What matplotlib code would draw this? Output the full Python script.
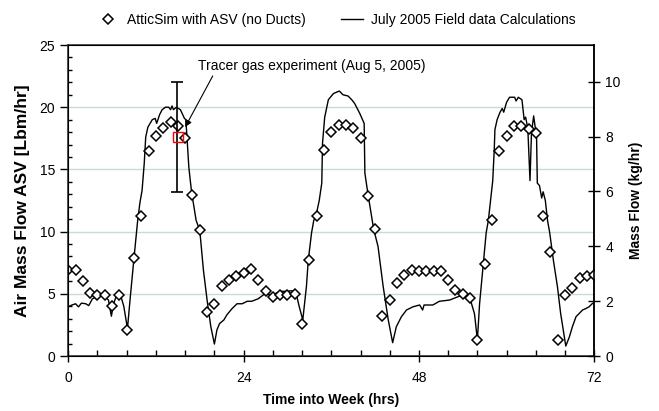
import numpy as np
import matplotlib
matplotlib.use("Agg")
import matplotlib.pyplot as plt

plt.rcParams['font.family'] = ['Liberation Sans', 'DejaVu Sans']

# AtticSim hourly predictions (lbm/hr)
sim_t = np.arange(0, 73)
sim_v = [6.9, 6.9, 6.0, 5.1, 4.9, 4.9, 4.0, 4.9, 2.1, 7.9,
         11.25, 16.5, 17.7, 18.35, 18.8, 18.45, 17.5, 12.95, 10.1, 3.5,
         4.2, 5.6, 6.1, 6.45, 6.7, 7.0, 6.1, 5.2, 4.75, 4.9,
         4.9, 5.0, 2.6, 7.7, 11.25, 16.55, 18.0, 18.6, 18.6, 18.3,
         17.5, 12.85, 10.2, 3.2, 4.5, 5.9, 6.5, 6.9, 6.8, 6.8,
         6.8, 6.8, 6.1, 5.3, 5.0, 4.7, 1.3, 7.4, 10.9, 16.5,
         17.66, 18.46, 18.46, 18.25, 17.9, 11.25, 8.4, 1.3, 4.9, 5.5,
         6.3, 6.4, 6.5]

# July 2005 field data calculations
field_t = [0.0, 0.5, 1.0, 1.4, 1.8, 2.4, 2.8, 3.3, 4.0, 5.0, 5.5, 5.9, 6.2, 6.5,
           7.1, 7.6, 8.1, 8.5, 9.0, 9.5, 9.8, 10.1, 10.4, 10.6, 10.9, 11.5, 11.9,
           12.1, 12.5, 12.85, 13.3, 13.75, 14.0, 14.2, 14.4, 14.8, 15.35, 15.9,
           16.1, 16.25, 16.35, 16.5, 16.7, 16.9, 17.2, 17.5, 18.0, 18.5, 19.0,
           19.5, 20.0, 20.35, 20.7, 21.3, 21.7, 22.4, 23.1, 23.8, 24.5, 25.1,
           26.0, 26.9, 27.9, 29.0, 29.9, 30.6, 31.2, 31.6, 32.1, 32.6, 32.85,
           33.3, 33.6, 33.9, 34.35, 34.7, 34.8, 35.1, 35.6, 36.3, 37.1, 37.6,
           38.3, 38.8, 39.2, 39.9, 40.5, 40.6, 41.0, 41.8, 42.4, 43.1, 43.8,
           44.4, 44.9, 45.6, 46.3, 47.2, 48.1, 48.5, 48.7, 49.9, 50.8, 52.2,
           53.5, 54.5, 55.1, 55.6, 56.0, 56.3, 56.8, 57.2, 57.5, 58.1, 58.3,
           58.4, 58.7, 59.1, 59.4, 59.6, 60.0, 60.4, 61.1, 61.3, 61.6, 62.1,
           62.4, 62.6, 62.9, 63.2, 63.4, 63.7, 64.1, 64.2, 64.5, 64.8, 65.0,
           65.3, 65.6, 65.9, 66.4, 66.95, 67.4, 68.1, 68.6, 69.0, 69.5, 69.9,
           70.4, 70.8, 71.3, 71.7, 72.0]
field_v = [3.96, 4.1, 4.2, 3.95, 4.25, 4.2, 4.05, 4.6, 4.8, 4.8, 4.5, 3.2, 4.2, 4.7,
           5.0, 4.0, 2.2, 4.8, 7.9, 10.9, 12.3, 13.3, 15.5, 17.6, 18.4, 19.0, 19.1,
           18.7, 19.4, 19.8, 20.0, 20.0, 19.8, 20.1, 19.8, 20.0, 19.8, 19.1,
           19.0, 17.6, 16.6, 15.2, 14.1, 13.1, 12.0, 10.9, 10.1, 6.9, 4.5,
           2.4, 0.96, 2.1, 2.6, 2.9, 3.3, 3.8, 4.2, 4.2, 4.4, 4.4,
           4.6, 5.0, 4.9, 5.2, 5.2, 5.25, 5.0, 4.0, 2.9, 5.6, 7.7,
           9.9, 10.9, 11.25, 12.5, 13.9, 17.1, 19.2, 20.6, 21.1, 21.3, 21.0,
           20.9, 20.6, 20.3, 19.5, 18.7, 14.7, 13.1, 10.2, 8.8, 5.6, 2.9,
           1.07, 2.35, 3.16, 3.7, 3.96, 4.1, 3.7, 4.1, 4.1, 4.4, 4.5,
           4.8, 4.8, 4.4, 3.4, 1.3, 4.2, 7.4, 9.9, 10.9, 14.1, 16.5,
           18.2, 19.0, 19.6, 19.9, 19.6, 20.4, 20.8, 20.8, 20.5, 20.8, 20.6,
           19.0, 19.2, 18.3, 14.1, 17.9, 19.3, 17.6, 13.9, 13.7, 12.7, 13.2,
           12.5, 10.9, 9.9, 7.7, 5.6, 3.4, 0.8, 1.55, 2.35, 3.16, 3.4,
           3.7, 3.8, 3.96, 4.2, 4.3]

# tracer gas measurement (Aug 5, 2005)
tracer_t = 14.9
tracer_mid = 17.6
tracer_low = 13.2
tracer_high = 22.05
tracer_box_t = 15.0

fig = plt.figure(figsize=(6.59, 4.11), dpi=100)
ax = fig.add_axes([0.1036, 0.1338, 0.7982, 0.7567])

for g in [5, 10, 15, 20]:
    ax.axhline(g, color='#c9d9dd', lw=1.0, zorder=0)

line, = ax.plot(field_t, field_v, color='black', lw=1.0, zorder=2,
                label='July 2005 Field data Calculations')
pts, = ax.plot(sim_t, sim_v, linestyle='none', marker='D', ms=5.4, mfc='white',
               mec='black', mew=1.1, zorder=3, label='AtticSim with ASV (no Ducts)')

# tracer gas error bar and value
ax.errorbar([tracer_t], [(tracer_high + tracer_low) / 2],
            yerr=[[(tracer_high - tracer_low) / 2]], fmt='none', ecolor='black',
            elinewidth=1.2, capsize=4, capthick=1.2, zorder=4)
ax.plot([tracer_box_t], [tracer_mid], marker='s', ms=7.5, mfc='none', mec='red',
        mew=1.0, linestyle='none', zorder=5)

ax.annotate('Tracer gas experiment (Aug 5, 2005)', xy=(16.0, 18.4),
            xytext=(17.8, 23.3), fontsize=10, va='center', ha='left',
            arrowprops=dict(arrowstyle='-|>', color='black', lw=0.8,
                            mutation_scale=10, shrinkA=0, shrinkB=0,
                            relpos=(0.07, 0.0)))

ax.set_xlim(0, 72)
ax.set_ylim(0, 25)
ax.set_xticks([0, 24, 48, 72])
ax.set_xticks(np.arange(0, 73, 4), minor=True)
ax.set_yticks(np.arange(0, 26, 5))
ax.set_yticks(np.arange(0, 26, 1), minor=True)
ax.tick_params(axis='x', which='major', direction='inout', length=9, width=1, labelsize=10, pad=6)
ax.tick_params(axis='x', which='minor', direction='in', length=4, width=1)
ax.tick_params(axis='y', which='major', direction='out', length=6, width=1, labelsize=10)
ax.tick_params(axis='y', which='minor', direction='in', length=3, width=1)
for s in ax.spines.values():
    s.set_linewidth(1.2)
    s.set_color('#333333')

ax.set_xlabel('Time into Week (hrs)', fontsize=10, fontweight='bold', labelpad=6)
ax.set_ylabel('Air Mass Flow ASV [Lbm/hr]', fontsize=12.5, fontweight='bold', labelpad=7)

ax2 = ax.twinx()
ax2.set_ylim(0, 25 * 0.45359)
ax2.set_yticks(np.arange(0, 11, 2))
ax2.tick_params(axis='y', direction='inout', length=9, width=1, labelsize=10)
ax2.spines['right'].set_linewidth(1.2)
ax2.set_ylabel('Mass Flow (kg/hr)', fontsize=10, fontweight='bold', labelpad=6)

fig.legend(handles=[pts, line], loc='upper center', bbox_to_anchor=(0.51, 1.0),
           ncol=2, frameon=False, fontsize=10, handlelength=1.6,
           columnspacing=2.5, handletextpad=0.6)

fig.savefig('out.png', dpi=100)
